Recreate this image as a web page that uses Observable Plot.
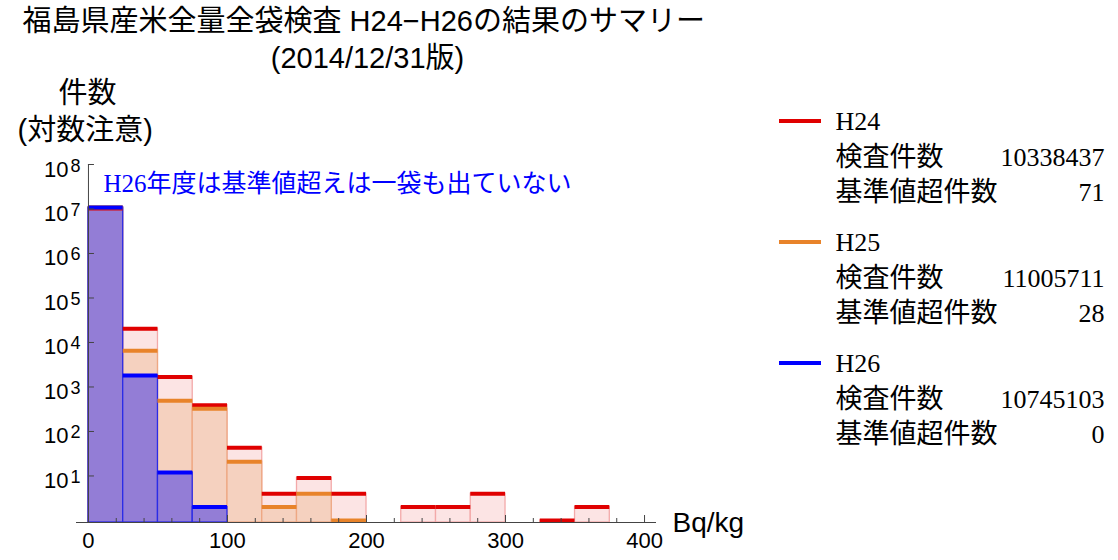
<!DOCTYPE html>
<html><head><meta charset="utf-8">
<script src="https://cdn.jsdelivr.net/npm/d3@7"></script>
<script src="https://cdn.jsdelivr.net/npm/@observablehq/plot@0.6"></script>
<style>
body{margin:0;background:#fff}
#chart{width:1118px;height:560px}
</style>
</head><body><div id="chart"></div>
<script>
// ---- data ----
const binStarts = [0, 25, 50, 75, 100, 125, 150, 175, 200, 225, 250, 275, 300, 325, 350];
const binWidth = 25;
const countsH24 = [10315942, 20357, 1678, 389, 43, 4, 9, 4, 0, 2, 2, 4, 0, 1, 2];
const countsH25 = [10998383, 6484, 493, 323, 21, 2, 4, 1, 0, 0, 0, 0, 0, 0, 0];
const countsH26 = [10743179, 1800, 12, 2, 0, 0, 0, 0, 0, 0, 0, 0, 0, 0, 0];
const seriesNames = ["H24", "H25", "H26"];
const totals = [10338437, 11005711, 10745103];
const overLimit = [71, 28, 0];
const yExponents = [1, 2, 3, 4, 5, 6, 7, 8];
const xMajorTicks = [0, 100, 200, 300, 400];
const xMinorTicks = [20, 40, 60, 80, 120, 140, 160, 180, 220, 240, 260, 280, 320, 340, 360, 380];
const titleText = "福島県産米全量全袋検査 H24−H26の結果のサマリー";
const subtitleText = "(2014/12/31版)";
const yLabel1 = "件数";
const yLabel2 = "(対数注意)";
const xLabel = "Bq/kg";
const noteText = "H26年度は基準値超えは一袋も出ていない";
const rowLabel1 = "検査件数";
const rowLabel2 = "基準値超件数";

// ---- styles ----
const lineColors = ["#e00000", "#e8832a", "#0000ff"];
const fillColors = ["#fce4e4", "#f5d1bf", "#937dd6"];
const edgeColors = ["#f3a9a9", "#eea883", "#2b2be6"];
const yMin = 0.9, yMax = 1e8;

const allCounts = [countsH24, countsH25, countsH26];
const rows = allCounts.map((arr, s) =>
  binStarts.map((b, i) => ({series: seriesNames[s], x1: b, x2: b + binWidth, count: arr[i]}))
    .filter(d => d.count > 0));

const legendRows = seriesNames.map((name, i) => ({name, total: totals[i], over: overLimit[i], i}));

const sans = '"Liberation Sans", "Noto Sans CJK JP", sans-serif';
const serif = '"Liberation Serif", "Noto Sans CJK JP", serif';

const L = 76, T = 164; // frame top-left in pixels
const marks = [];
// bar fills with edges
rows.forEach((r, s) => {
  marks.push(Plot.rect(r, {x1: "x1", x2: "x2", y1: yMin, y2: "count",
    fill: fillColors[s], stroke: edgeColors[s], strokeWidth: 1.3}));
});
// thick top lines
rows.forEach((r, s) => {
  marks.push(Plot.ruleY(r, {x1: "x1", x2: "x2", y: "count", stroke: lineColors[s], strokeWidth: 4}));
});
// axes
marks.push(Plot.ruleY([yMin], {stroke: "#444", strokeWidth: 1}));
marks.push(Plot.ruleX([0], {y1: yMin, y2: yMax, stroke: "#444", strokeWidth: 1}));
marks.push(Plot.ruleY(yExponents.map(e => 10 ** e), {y: d => d, x1: 0, x2: 0, insetRight: -6, stroke: "#444"}));
marks.push(Plot.ruleX(xMajorTicks, {x: d => d, y1: yMin, y2: yMin, insetTop: -7, stroke: "#444"}));
marks.push(Plot.ruleX(xMinorTicks, {x: d => d, y1: yMin, y2: yMin, insetTop: -4, stroke: "#444"}));
// tick labels
marks.push(Plot.text(xMajorTicks, {x: d => d, y: yMin, text: d => String(d), lineAnchor: "bottom", dy: 25, fontSize: 22, fontFamily: sans, fill: "#000"}));
marks.push(Plot.text(yExponents, {x: 0, y: d => 10 ** d, text: () => "10", textAnchor: "end", lineAnchor: "bottom", dx: -20, dy: 12, fontSize: 22, fontFamily: sans, fill: "#000"}));
marks.push(Plot.text(yExponents, {x: 0, y: d => 10 ** d, text: d => String(d), textAnchor: "start", lineAnchor: "bottom", dx: -18, dy: 7, fontSize: 18, fontFamily: sans, fill: "#000"}));
// texts around
const fa = (txt, px, py, opts) => Plot.text([txt], {frameAnchor: "top-left", text: d => d, dx: px - L, dy: py - T, lineAnchor: "bottom", textAnchor: "start", fill: "#000", ...opts});
marks.push(fa(titleText, 22, 30, {fontSize: 29, fontFamily: sans}));
marks.push(fa(subtitleText, 367, 67, {fontSize: 29, fontFamily: sans, textAnchor: "middle"}));
marks.push(fa(yLabel1, 58, 102, {fontSize: 29, fontFamily: sans}));
marks.push(fa(yLabel2, 17, 139, {fontSize: 29, fontFamily: sans}));
marks.push(fa(xLabel, 672, 531, {fontSize: 28, fontFamily: sans}));
marks.push(fa(noteText, 103, 191, {fontSize: 25, fontFamily: serif, fill: "#0000ff"}));
// legend texts
legendRows.forEach(d => {
  const off = 121 * d.i;
  marks.push(fa(d.name, 835, 129 + off, {fontSize: 26, fontFamily: serif}));
  marks.push(fa(rowLabel1, 835, 165 + off, {fontSize: 27, fontFamily: serif}));
  marks.push(fa(String(d.total), 1104, 165 + off, {fontSize: 26, fontFamily: serif, textAnchor: "end"}));
  marks.push(fa(rowLabel2, 835, 200 + off, {fontSize: 27, fontFamily: serif}));
  marks.push(fa(String(d.over), 1104, 200 + off, {fontSize: 26, fontFamily: serif, textAnchor: "end"}));
});

const chart = Plot.plot({
  width: 1118, height: 560,
  marginLeft: L, marginRight: 1118 - 656, marginTop: T, marginBottom: 560 - 522,
  x: {domain: [-8.6, 408.6], axis: null},
  y: {type: "log", domain: [yMin, yMax], axis: null},
  style: {fontFamily: sans, background: "#fff", overflow: "visible"},
  marks
});
// legend swatches
const svg = d3.select(chart);
legendRows.forEach(d => {
  svg.append("line").attr("x1", 779).attr("x2", 821)
    .attr("y1", 121 + 121 * d.i).attr("y2", 121 + 121 * d.i)
    .attr("stroke", lineColors[d.i]).attr("stroke-width", 4);
});
document.getElementById("chart").appendChild(chart);
</script>
</body></html>
